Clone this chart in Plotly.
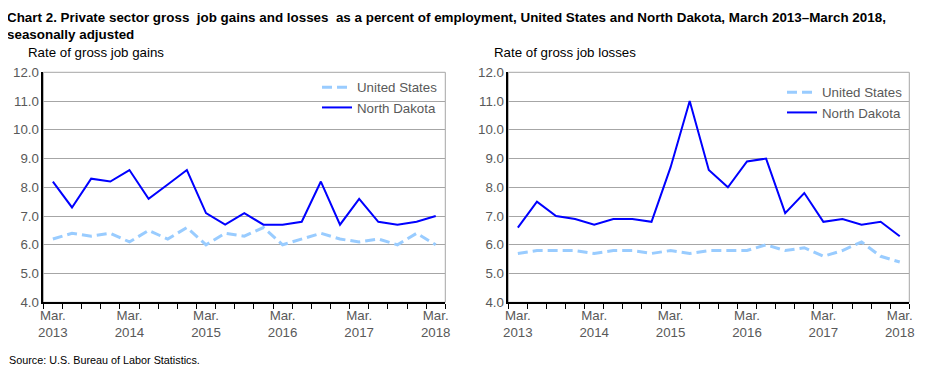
import plotly.graph_objects as go

quarters = ["Mar. 2013", "Jun. 2013", "Sep. 2013", "Dec. 2013",
            "Mar. 2014", "Jun. 2014", "Sep. 2014", "Dec. 2014",
            "Mar. 2015", "Jun. 2015", "Sep. 2015", "Dec. 2015",
            "Mar. 2016", "Jun. 2016", "Sep. 2016", "Dec. 2016",
            "Mar. 2017", "Jun. 2017", "Sep. 2017", "Dec. 2017",
            "Mar. 2018"]

us_gains = [6.2, 6.4, 6.3, 6.4, 6.1, 6.5, 6.2, 6.6, 6.0, 6.4, 6.3, 6.6,
            6.0, 6.2, 6.4, 6.2, 6.1, 6.2, 6.0, 6.4, 6.0]
nd_gains = [8.2, 7.3, 8.3, 8.2, 8.6, 7.6, 8.1, 8.6, 7.1, 6.7, 7.1, 6.7,
            6.7, 6.8, 8.2, 6.7, 7.6, 6.8, 6.7, 6.8, 7.0]
us_losses = [5.7, 5.8, 5.8, 5.8, 5.7, 5.8, 5.8, 5.7, 5.8, 5.7, 5.8, 5.8,
             5.8, 6.0, 5.8, 5.9, 5.6, 5.8, 6.1, 5.6, 5.4]
nd_losses = [6.6, 7.5, 7.0, 6.9, 6.7, 6.9, 6.9, 6.8, 8.7, 11.0, 8.6, 8.0,
             8.9, 9.0, 7.1, 7.8, 6.8, 6.9, 6.7, 6.8, 6.3]

tick_idx = [0, 4, 8, 12, 16, 20]
tick_text = ["Mar.<br>2013", "Mar.<br>2014", "Mar.<br>2015",
             "Mar.<br>2016", "Mar.<br>2017", "Mar.<br>2018"]
y_ticks = [4, 5, 6, 7, 8, 9, 10, 11, 12]

FONT = "Liberation Sans, Arial, sans-serif"
LABEL = "#595959"
GRID = "#a6a6a6"
US_COLOR = "#99ccff"
ND_COLOR = "#0000ff"
FS = 13.3

W, H = 930, 372
OFF = 8  # page body margin offset

def px(v):
    return (v - OFF) / W

def py(v):
    return 1 - (v - OFF) / H

x = list(range(len(quarters)))

fig = go.Figure()

fig.add_trace(go.Scatter(x=x, y=us_gains, mode="lines", name="United States",
                         line=dict(color=US_COLOR, width=3, dash="10px,5px"),
                         xaxis="x", yaxis="y", legend="legend",
                         customdata=quarters))
fig.add_trace(go.Scatter(x=x, y=nd_gains, mode="lines", name="North Dakota",
                         line=dict(color=ND_COLOR, width=2),
                         xaxis="x", yaxis="y", legend="legend",
                         customdata=quarters))
fig.add_trace(go.Scatter(x=x, y=us_losses, mode="lines", name="United States",
                         line=dict(color=US_COLOR, width=3, dash="10px,5px"),
                         xaxis="x2", yaxis="y2", legend="legend2",
                         customdata=quarters))
fig.add_trace(go.Scatter(x=x, y=nd_losses, mode="lines", name="North Dakota",
                         line=dict(color=ND_COLOR, width=2),
                         xaxis="x2", yaxis="y2", legend="legend2",
                         customdata=quarters))

ydom = [py(302.3), py(72.3)]
xdom1 = [px(43.3), px(445.3)]
xdom2 = [px(508.3), px(909.3)]

def xaxis(anchor, dom):
    return dict(domain=dom, anchor=anchor, range=[-0.5, len(quarters) - 0.5],
                automargin=False,
                tickmode="array", tickvals=tick_idx, ticktext=tick_text,
                ticks="", showgrid=False, zeroline=False,
                showline=True, linecolor="black", linewidth=1.5,
                tickfont=dict(family=FONT, size=FS, color=LABEL),
                minor=dict(tickmode="array",
                           tickvals=[i - 0.5 for i in range(len(quarters) + 1)],
                           ticks="outside", ticklen=5, tickcolor="black",
                           tickwidth=1, showgrid=False))

def yaxis(anchor):
    return dict(domain=ydom, anchor=anchor, range=[4, 12], tickmode="array",
                automargin=False,
                tickvals=y_ticks, tickformat=".1f", ticks="",
                showgrid=True, gridcolor=GRID, gridwidth=1, zeroline=False,
                showline=True, linecolor="black", linewidth=1.5,
                tickfont=dict(family=FONT, size=FS, color=LABEL))

fig.update_layout(
    width=W, height=H,
    margin=dict(l=0, r=0, t=0, b=0, autoexpand=False),
    paper_bgcolor="white", plot_bgcolor="white",
    font=dict(family=FONT, size=FS, color=LABEL),
    xaxis=xaxis("y", xdom1), yaxis=yaxis("x"),
    xaxis2=xaxis("y2", xdom2), yaxis2=yaxis("x2"),
    showlegend=True,
    legend=dict(x=px(317), y=py(72), xanchor="left", yanchor="top",
                bgcolor="rgba(0,0,0,0)", font=dict(family=FONT, size=FS, color=LABEL),
                tracegroupgap=0, itemwidth=30),
    legend2=dict(x=px(782), y=py(77), xanchor="left", yanchor="top",
                 bgcolor="rgba(0,0,0,0)", font=dict(family=FONT, size=FS, color=LABEL),
                 tracegroupgap=0, itemwidth=30),
    shapes=[
        dict(type="rect", xref="x domain", yref="y domain", x0=0, x1=1, y0=0, y1=1,
             line=dict(color=GRID, width=1), layer="below"),
        dict(type="rect", xref="x2 domain", yref="y2 domain", x0=0, x1=1, y0=0, y1=1,
             line=dict(color=GRID, width=1), layer="below"),
    ],
    annotations=[
        dict(text="<b>Chart 2. Private sector gross  job gains and losses  as a percent of employment, "
                  "United States and North Dakota, March 2013\u2013March 2018,<br>seasonally adjusted</b>",
             xref="paper", yref="paper", x=px(5), y=py(8), xanchor="left", yanchor="top",
             align="left", showarrow=False, font=dict(family=FONT, size=13.4, color="black")),
        dict(text="Rate of gross job gains", xref="paper", yref="paper",
             x=px(26), y=py(43), xanchor="left", yanchor="top", showarrow=False,
             font=dict(family=FONT, size=FS, color="black")),
        dict(text="Rate of gross job losses", xref="paper", yref="paper",
             x=px(492), y=py(43), xanchor="left", yanchor="top", showarrow=False,
             font=dict(family=FONT, size=FS, color="black")),
        dict(text="Source: U.S. Bureau of Labor Statistics.", xref="paper", yref="paper",
             x=px(7), y=py(352), xanchor="left", yanchor="top", showarrow=False,
             font=dict(family=FONT, size=10.8, color="black")),
    ],
)

fig.write_html("out.html")
